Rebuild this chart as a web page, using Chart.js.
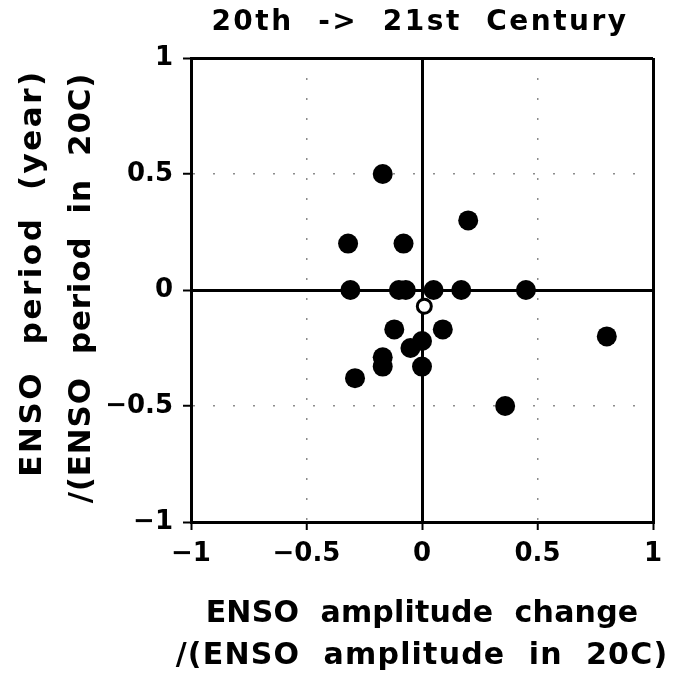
<!DOCTYPE html>
<html>
<head>
<meta charset="utf-8">
<script src="https://cdn.jsdelivr.net/npm/chart.js@4.4.1/dist/chart.umd.min.js"></script>
<style>
    html, body { margin: 0; padding: 0; background: #fff; }
    #wrap { width: 677px; height: 680px; }
</style>
</head>
<body>
<div id="wrap"><canvas id="chart"></canvas></div>
<script>
// 20th -> 21st century change in ENSO amplitude vs ENSO period (per model)
const titleText = '20th  ->  21st  Century';
const xTitleLines = ['ENSO  amplitude  change', '/(ENSO  amplitude  in  20C)'];
const yTitleLines = ['ENSO  period  (year)', '/(ENSO  period  in  20C)'];

const tickValues = [-1, -0.5, 0, 0.5, 1];
const tickLabels = ['\u22121', '\u22120.5', '0', '0.5', '1'];

// individual models (filled dots)
const modelAmp = [-0.17, 0.20, -0.32, -0.08, -0.31, -0.10, -0.07, 0.05, 0.17, 0.45,
                  -0.12, 0.09, 0.00, -0.05, -0.17, -0.17, 0.00, -0.29, 0.80, 0.36];
const modelPer = [0.50, 0.30, 0.20, 0.20, 0.00, 0.00, 0.00, 0.00, 0.00, 0.00,
                  -0.17, -0.17, -0.22, -0.25, -0.29, -0.33, -0.33, -0.38, -0.20, -0.50];

// ensemble mean (open circle)
const meanAmp = [0.01];
const meanPer = [-0.07];

const FONT = '"DejaVu Sans", "Liberation Sans", sans-serif';

function toPoints(xs, ys) {
    return xs.map((x, i) => ({ x: x, y: ys[i] }));
}

function tickLabel(v) {
    const i = tickValues.findIndex(t => Math.abs(t - v) < 1e-9);
    return i >= 0 ? tickLabels[i] : '';
}

// grid: solid black at 0 and the box edges, faint dots at +/-0.5
const gridOpts = {
    color: (c) => Math.abs(c.tick.value) === 0.5 ? '#8c8c8c' : '#000',
    lineWidth: (c) => Math.abs(c.tick.value) === 0.5 ? 1.5 : 3,
    drawTicks: true,
    tickLength: 8,
    tickWidth: 2,
    tickColor: '#000',
    tickBorderDash: []
};
const borderOpts = {
    display: true,
    color: '#000',
    width: 3,
    dash: (c) => (c.tick && Math.abs(c.tick.value) === 0.5) ? [2, 18] : []
};
function tickOpts(pad) {
    return {
        stepSize: 0.5,
        color: '#000',
        padding: pad,
        font: { family: FONT, size: 26, weight: 'bold' },
        callback: (v) => tickLabel(v)
    };
}

function drawLine(ctx, text, x, y, size, spacing, rotate) {
    ctx.save();
    ctx.font = 'bold ' + size + 'px ' + FONT;
    ctx.letterSpacing = spacing + 'px';
    ctx.translate(x, y);
    if (rotate) ctx.rotate(-Math.PI / 2);
    ctx.fillText(text, 0, 0);
    ctx.restore();
}

const textPlugin = {
    id: 'textPlugin',
    afterDraw(chart) {
        const ctx = chart.ctx;
        const area = chart.chartArea;
        const cx = (area.left + area.right) / 2;
        ctx.save();
        ctx.fillStyle = '#000';
        ctx.textAlign = 'center';
        ctx.textBaseline = 'middle';

        drawLine(ctx, titleText, cx - 2, 23, 28, 2.5, false);

        drawLine(ctx, xTitleLines[0], cx, 614, 30, 0.2, false);
        drawLine(ctx, xTitleLines[1], cx, 656, 30, 1.2, false);

        drawLine(ctx, yTitleLines[0], 33, 273, 31, 2.5, true);
        drawLine(ctx, yTitleLines[1], 82, 288, 31, 0.8, true);

        ctx.restore();
    }
};

new Chart(document.getElementById('chart'), {
    type: 'scatter',
    data: {
        datasets: [
            {
                label: 'models',
                data: toPoints(modelAmp, modelPer),
                pointRadius: 10,
                pointBackgroundColor: '#000',
                pointBorderColor: '#000',
                pointBorderWidth: 0
            },
            {
                label: 'ensemble mean',
                data: toPoints(meanAmp, meanPer),
                pointRadius: 7,
                pointBackgroundColor: '#fff',
                pointBorderColor: '#000',
                pointBorderWidth: 3
            }
        ]
    },
    options: {
        responsive: true,
        maintainAspectRatio: false,
        animation: false,
        layout: { padding: { left: 0, top: 58, right: 24, bottom: 0 } },
        scales: {
            x: {
                type: 'linear',
                min: -1,
                max: 1,
                grid: gridOpts,
                border: borderOpts,
                ticks: tickOpts(9),
                afterFit: (s) => { s.height = 158; }
            },
            y: {
                type: 'linear',
                min: -1,
                max: 1,
                grid: gridOpts,
                border: borderOpts,
                ticks: tickOpts(10),
                afterFit: (s) => { s.width = 191; }
            }
        },
        plugins: {
            legend: { display: false },
            tooltip: { enabled: false }
        }
    },
    plugins: [textPlugin]
});
</script>
</body>
</html>
